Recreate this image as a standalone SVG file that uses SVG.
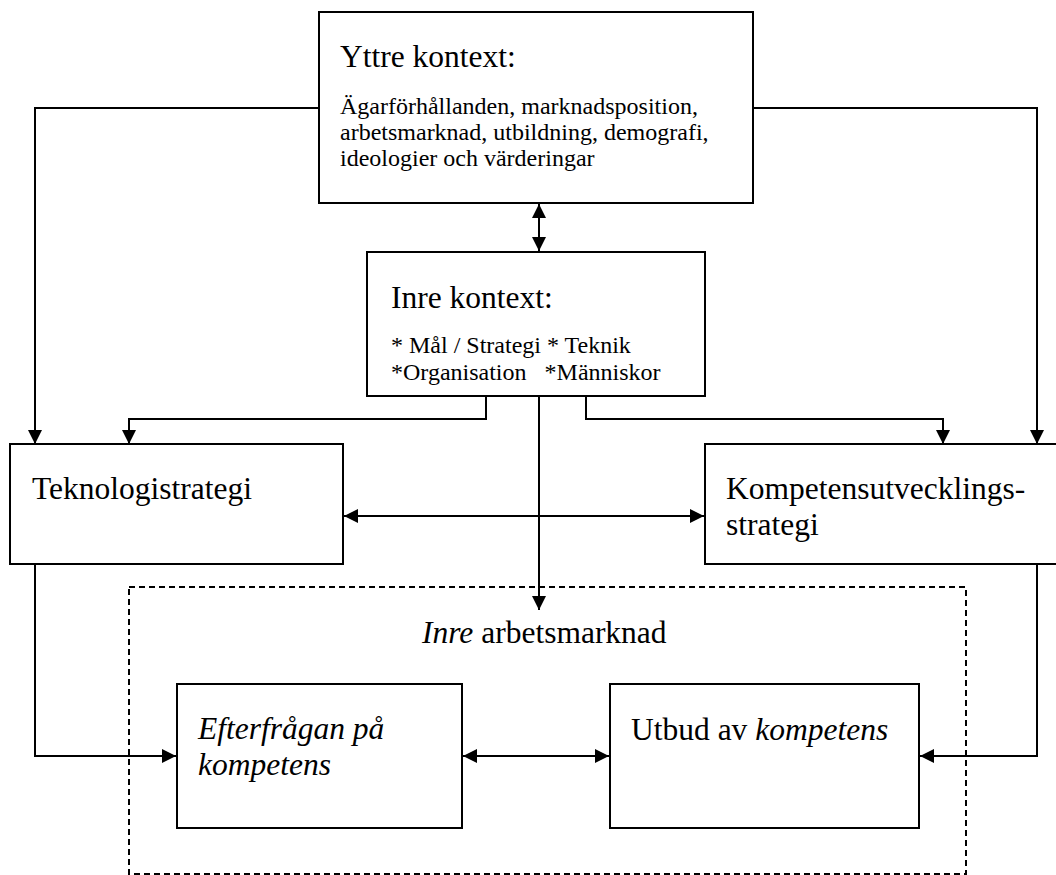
<svg xmlns="http://www.w3.org/2000/svg" width="1056" height="875" viewBox="0 0 1056 875">
<style>
.box{fill:#fff;stroke:#000;stroke-width:2}
.dash{fill:none;stroke:#000;stroke-width:2;stroke-dasharray:6,4}
.ln{fill:none;stroke:#000;stroke-width:2}
.big{font-family:"Liberation Serif","Times New Roman",serif;font-size:31.5px;fill:#000}
.sm{font-family:"Liberation Serif","Times New Roman",serif;font-size:24px;fill:#000}
.it{font-style:italic}
</style>
<defs>
<marker id="ah" viewBox="0 0 14 14" refX="14" refY="7" markerWidth="14" markerHeight="14" markerUnits="userSpaceOnUse" orient="auto-start-reverse">
<path d="M0,0 L14,7 L0,14 Z" fill="#000"/>
</marker>
</defs>
<rect x="0" y="0" width="1056" height="875" fill="#fff"/>
<g id="inre-arbetsmarknad">
<rect class="dash" x="129" y="587" width="837" height="287"/>
<text class="big" x="422" y="643"><tspan class="it">Inre</tspan> arbetsmarknad</text>
</g>
<g id="connectors">
<path class="ln" d="M319,108 H35 V444" marker-end="url(#ah)"/>
<path class="ln" d="M753,108 H1037 V444" marker-end="url(#ah)"/>
<path class="ln" d="M539,204 V251" marker-start="url(#ah)" marker-end="url(#ah)"/>
<path class="ln" d="M486,396 V419 H129 V444" marker-end="url(#ah)"/>
<path class="ln" d="M586,396 V419 H943 V444" marker-end="url(#ah)"/>
<path class="ln" d="M539,396 V610" marker-end="url(#ah)"/>
<path class="ln" d="M344,516 H704" marker-start="url(#ah)" marker-end="url(#ah)"/>
<path class="ln" d="M35,564 V756 H176" marker-end="url(#ah)"/>
<path class="ln" d="M463,756 H609" marker-start="url(#ah)" marker-end="url(#ah)"/>
<path class="ln" d="M1037,564 V756 H920" marker-end="url(#ah)"/>
</g>
<g id="yttre-kontext">
<rect class="box" x="319" y="12" width="434" height="191"/>
<text class="big" x="340" y="67">Yttre kontext:</text>
<text class="sm" x="340" y="114">Ägarförhållanden, marknadsposition,</text>
<text class="sm" x="340" y="140">arbetsmarknad, utbildning, demografi,</text>
<text class="sm" x="340" y="166">ideologier och värderingar</text>
</g>
<g id="inre-kontext">
<rect class="box" x="367" y="252" width="338" height="144"/>
<text class="big" x="391" y="308">Inre kontext:</text>
<text class="sm" x="391" y="353">* Mål / Strategi * Teknik</text>
<text class="sm" x="391" y="380" xml:space="preserve">*Organisation   *Människor</text>
</g>
<g id="teknologistrategi">
<rect class="box" x="10" y="444" width="333" height="120"/>
<text class="big" x="32" y="499">Teknologistrategi</text>
</g>
<g id="kompetensutvecklingsstrategi">
<rect class="box" x="705" y="444" width="360" height="120"/>
<text class="big" x="726" y="499">Kompetensutvecklings-</text>
<text class="big" x="726" y="535">strategi</text>
</g>
<g id="efterfragan">
<rect class="box" x="177" y="684" width="285" height="144"/>
<text class="big it" x="198" y="739">Efterfrågan på</text>
<text class="big it" x="198" y="775">kompetens</text>
</g>
<g id="utbud">
<rect class="box" x="610" y="684" width="309" height="144"/>
<text class="big" x="631" y="740">Utbud av <tspan class="it">kompetens</tspan></text>
</g>
</svg>
